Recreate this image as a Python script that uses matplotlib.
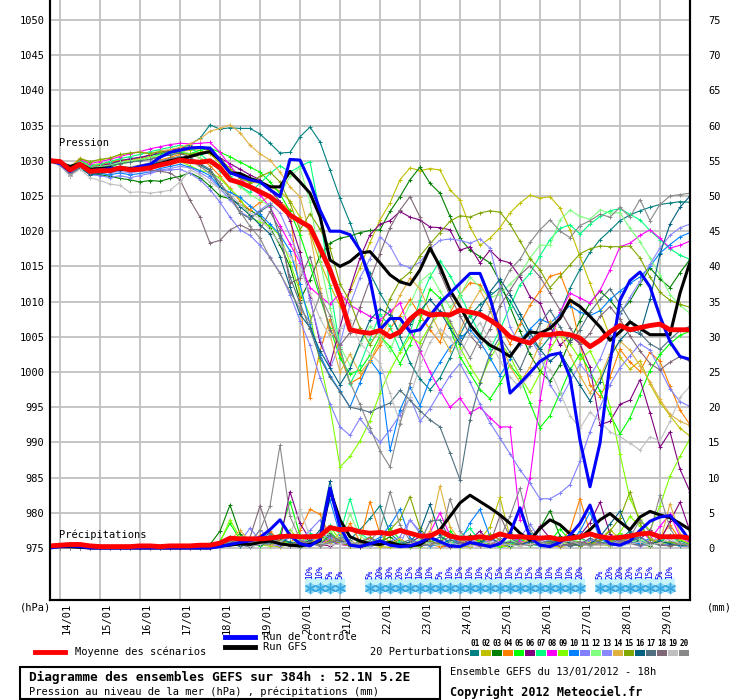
import numpy as np
import matplotlib
matplotlib.use('Agg')
import matplotlib.pyplot as plt
from matplotlib.lines import Line2D
from matplotlib.patches import Rectangle
from matplotlib.transforms import ScaledTranslation

plt.rcParams['font.family'] = ['DejaVu Sans Mono', 'DejaVu Sans']

# run start 13/01 18h, one value every 6h over 384h
start_day = 13.75
step_day = 0.25

date_ticks = list(range(14, 30))
date_labels = ['%02d/01' % d for d in date_ticks]

# pressure (hPa)
mean_p = [1030.0, 1029.9, 1028.7, 1029.5, 1028.5, 1028.6, 1028.6, 1029.0,
          1028.7, 1028.8, 1029.0, 1029.4, 1029.7, 1030.1, 1029.9, 1029.8,
          1030.0, 1029.0, 1027.3, 1026.9, 1026.3, 1025.6, 1024.9, 1023.7,
          1022.3, 1021.4, 1020.6, 1017.6, 1014.5, 1010.7, 1006.0, 1005.7,
          1005.5, 1005.9, 1005.0, 1005.7, 1007.5, 1008.7, 1008.1, 1008.2,
          1008.1, 1008.8, 1008.5, 1008.2, 1007.4, 1006.4, 1005.0, 1004.5,
          1004.1, 1005.3, 1005.3, 1005.5, 1005.3, 1004.8, 1003.6, 1004.5,
          1005.7, 1006.6, 1006.0, 1006.3, 1006.6, 1006.8, 1006.0, 1006.0,
          1006.0]
control_p = [1030.0, 1029.6, 1028.5, 1029.6, 1028.6, 1028.7, 1028.9, 1029.0,
             1028.8, 1029.2, 1029.5, 1030.5, 1031.2, 1031.5, 1031.8, 1031.9,
             1031.8, 1030.1, 1028.3, 1027.8, 1027.3, 1027.0, 1025.9, 1024.9,
             1030.2, 1030.1, 1027.0, 1023.0, 1020.0, 1020.0, 1019.5, 1017.3,
             1013.1, 1006.0, 1007.6, 1007.6, 1005.7, 1006.0, 1008.0, 1009.8,
             1011.2, 1012.6, 1014.0, 1014.0, 1010.5, 1005.5, 997.0, 998.4,
             999.9, 1001.5, 1002.4, 1002.7, 999.3, 990.3, 983.7, 989.9,
             1001.3, 1010.2, 1013.0, 1014.2, 1012.1, 1007.9, 1004.3, 1002.2,
             1001.8]
gfs_p = [1030.0, 1029.7, 1029.2, 1029.6, 1028.8, 1028.9, 1029.0, 1028.8,
         1028.9, 1028.9, 1029.2, 1029.6, 1030.0, 1030.3, 1030.6, 1031.0,
         1031.3, 1030.1, 1028.3, 1028.2, 1027.5, 1027.0, 1026.3, 1026.3,
         1028.5, 1027.0, 1025.4, 1022.1, 1015.9, 1015.0, 1015.7, 1016.9,
         1017.1, 1015.5, 1013.8, 1012.8, 1012.4, 1014.5, 1017.6, 1015.0,
         1011.6, 1009.3, 1006.7, 1005.0, 1003.8, 1003.1, 1002.2, 1004.1,
         1005.7, 1005.5, 1006.2, 1007.6, 1010.2, 1009.3, 1007.9, 1006.4,
         1004.5, 1005.7, 1007.1, 1006.2, 1005.3, 1005.3, 1005.3, 1011.2,
         1015.6]

p01 = [1030.2, 1029.8, 1028.3, 1029.8, 1028.9, 1029.2, 1029.5, 1029.9,
       1030.2, 1030.4, 1030.8, 1031.0, 1031.4, 1031.8, 1032.3, 1033.2,
       1035.1, 1034.5, 1034.7, 1034.6, 1034.6, 1033.8, 1032.5, 1031.1,
       1031.2, 1033.4, 1034.8, 1032.7, 1028.7, 1024.7, 1021.2, 1017.3,
       1014.0, 1011.2, 1008.8, 1005.0, 1001.3, 999.0, 997.5, 999.2,
       1002.0, 1005.3, 1008.0, 1009.6, 1010.8, 1012.0, 1010.1, 1007.5,
       1004.8, 1003.2, 1005.0, 1008.3, 1011.9, 1014.6, 1017.0, 1018.8,
       1020.1, 1021.5, 1022.3, 1022.9, 1023.4, 1023.8, 1024.0, 1024.2,
       1024.1]
p02 = [1030.0, 1029.9, 1028.9, 1030.1, 1029.4, 1029.6, 1029.8, 1030.2,
       1030.0, 1030.4, 1030.2, 1030.7, 1030.9, 1031.2, 1031.6, 1031.5,
       1031.0, 1029.6, 1028.4, 1027.7, 1027.0, 1026.8, 1026.3, 1025.7,
       1024.3, 1022.0, 1019.8, 1015.6, 1012.3, 1009.4, 1011.5, 1014.8,
       1018.4, 1021.6, 1024.0, 1027.3, 1029.0, 1028.6, 1028.9, 1028.7,
       1025.9, 1024.4, 1020.6, 1018.0, 1019.0, 1020.5, 1022.6, 1024.0,
       1025.1, 1024.7, 1024.9, 1023.3, 1020.2, 1016.4, 1012.6, 1008.8,
       1005.0, 1002.1, 1000.4, 1001.6, 998.3, 995.7, 993.8, 992.0,
       990.9]
p03 = [1029.8, 1029.5, 1028.2, 1029.3, 1028.3, 1028.0, 1027.8, 1027.5,
       1027.3, 1027.0, 1027.2, 1027.1, 1027.5, 1027.8, 1028.3, 1027.6,
       1026.4, 1025.0, 1024.6, 1023.8, 1023.0, 1022.1, 1020.5, 1018.0,
       1015.0, 1010.2, 1013.1, 1016.5, 1018.3, 1019.0, 1019.3, 1019.8,
       1020.1, 1020.2, 1022.8, 1024.9, 1027.3, 1029.1, 1026.8, 1025.4,
       1022.1, 1019.0, 1017.3, 1016.4, 1015.5, 1012.8, 1009.3, 1005.8,
       1002.5, 1000.1, 998.7, 1001.0, 1004.5, 1007.3, 1009.8, 1011.5,
       1010.2, 1008.4, 1010.1, 1012.5, 1014.8, 1013.2, 1012.0, 1014.1,
       1016.0]
p04 = [1030.1, 1029.7, 1028.6, 1029.9, 1029.2, 1029.4, 1029.8, 1030.0,
       1029.9, 1030.3, 1030.6, 1030.1, 1030.5, 1030.9, 1031.0, 1030.4,
       1029.3, 1027.8, 1026.1, 1024.3, 1023.0, 1024.1, 1025.0, 1024.2,
       1023.0, 1010.5, 996.3, 1003.0, 1007.5, 1002.5, 998.4, 999.2,
       1001.5, 1003.8, 1006.2, 1008.0, 1010.3, 1008.1, 1006.0, 1004.2,
       1008.4, 1011.0, 1012.7, 1012.4, 1010.2, 1006.5, 1004.0, 1006.8,
       1009.5, 1011.5, 1013.6, 1014.0, 1010.3, 1004.1, 998.2, 996.5,
       999.3, 1003.2, 1001.4, 1000.1, 1002.8, 1001.5, 998.0, 994.6,
       992.5]
p05 = [1029.9, 1029.6, 1028.4, 1029.6, 1028.7, 1028.9, 1029.1, 1029.6,
       1029.8, 1030.1, 1030.5, 1030.9, 1031.1, 1031.3, 1031.0, 1031.5,
       1031.8, 1031.2, 1030.6, 1029.8, 1029.1, 1028.4, 1027.0, 1025.3,
       1022.8, 1019.5, 1015.2, 1010.6, 1006.3, 1002.0, 999.7, 1000.3,
       1002.4, 1005.1, 1003.6, 1001.2, 1003.9, 1007.4, 1011.8, 1010.5,
       1006.3, 1002.2, 999.8, 997.5, 996.2, 998.4, 1001.0, 999.2,
       995.6, 992.1, 993.8, 997.0, 1000.3, 1002.6, 1000.1, 997.3,
       994.0, 991.2, 993.5, 996.8, 1000.2, 1002.5, 1004.0, 1005.2,
       1005.8]
p06 = [1030.0, 1029.8, 1028.7, 1029.7, 1029.0, 1029.3, 1029.6, 1030.0,
       1030.3, 1030.5, 1030.8, 1031.2, 1031.5, 1031.8, 1032.0, 1031.9,
       1031.5, 1030.4, 1029.6, 1028.8, 1028.0, 1027.3, 1025.9, 1024.2,
       1021.5, 1017.0, 1010.5, 1004.2, 1001.0, 1006.3, 1011.8, 1016.2,
       1019.5, 1021.0, 1021.5, 1022.8, 1022.0, 1021.6, 1020.6, 1020.5,
       1020.2, 1017.3, 1017.8, 1015.5, 1017.3, 1015.9, 1015.5, 1013.5,
       1010.7, 1009.8, 1006.5, 1003.8, 1005.2, 1004.0, 1000.7, 992.5,
       993.0, 995.4, 996.0, 998.9, 994.2, 989.3, 991.5, 986.2,
       983.0]
p07 = [1030.1, 1029.9, 1028.8, 1030.0, 1029.3, 1029.5, 1029.9, 1030.3,
       1030.6, 1030.9, 1031.3, 1031.6, 1031.9, 1032.2, 1031.8, 1031.0,
       1029.8, 1028.6, 1027.9, 1026.4, 1025.5, 1026.8, 1028.2, 1029.3,
       1028.4, 1029.2, 1029.9, 1022.4, 1012.0, 1003.5, 998.3, 1001.0,
       1004.7, 1008.2, 1006.5, 1003.1, 1005.6, 1010.2, 1013.5, 1015.8,
       1013.7, 1011.0, 1008.1, 1005.4, 1003.2, 1006.0, 1009.3, 1012.4,
       1014.0, 1016.5, 1018.8, 1020.4, 1020.9, 1019.6, 1021.0, 1022.1,
       1022.9, 1023.2, 1022.4, 1021.6, 1020.1, 1018.8, 1017.5, 1016.6,
       1016.0]
p08 = [1030.3, 1030.0, 1028.9, 1030.2, 1029.6, 1029.9, 1030.2, 1030.6,
       1031.0, 1031.3, 1031.7, 1032.0, 1032.3, 1032.5, 1032.4, 1032.5,
       1032.6, 1031.2, 1029.3, 1027.6, 1026.1, 1025.2, 1023.4, 1020.8,
       1018.2, 1015.5, 1012.0, 1010.8, 1009.6, 1011.2, 1009.5, 1008.7,
       1007.9, 1007.4, 1008.6, 1009.8, 1006.0, 1003.0, 1000.0, 997.4,
       995.0, 996.3, 994.2, 995.0, 993.5, 992.2, 992.2, 979.0,
       985.0, 996.0, 1004.0, 1008.5, 1011.2, 1010.5, 1009.8, 1011.6,
       1014.5, 1017.8, 1018.3, 1019.4, 1020.2, 1019.0, 1017.6, 1018.0,
       1018.6]
p09 = [1029.9, 1029.6, 1028.5, 1029.4, 1028.6, 1028.7, 1028.5, 1028.9,
       1028.6, 1028.8, 1028.9, 1029.3, 1029.6, 1029.9, 1029.3, 1028.6,
       1028.4, 1027.5, 1026.0, 1024.7, 1022.0, 1021.3, 1020.8, 1019.3,
       1015.6, 1011.4, 1008.0, 1001.5, 995.0, 986.5, 988.0, 990.2,
       993.1, 997.0, 1000.2, 1002.8, 1005.0, 1004.1, 1006.6, 1008.4,
       1007.0, 1003.5, 1000.8, 998.6, 1001.9, 1004.3, 1002.2, 999.4,
       997.1, 999.8, 1003.2, 1005.5, 1004.0, 1001.8, 1003.0, 1000.1,
       995.0, 988.3, 982.0, 979.1, 977.5, 981.0, 985.2, 988.0,
       990.5]
p10 = [1030.0, 1029.5, 1028.1, 1029.2, 1028.1, 1028.2, 1028.0, 1028.3,
       1028.0, 1028.2, 1028.4, 1028.9, 1029.2, 1029.5, 1029.1, 1028.6,
       1027.9, 1026.2, 1025.5, 1024.8, 1023.6, 1022.4, 1021.0, 1019.5,
       1017.2, 1012.5, 1006.8, 1002.4, 999.5, 997.3, 995.0, 998.5,
       1001.7, 999.8, 988.9, 994.6, 997.8, 995.2, 999.0, 1001.4,
       1003.6, 1004.8, 1006.0, 1004.3, 1002.0, 999.5, 1001.8, 1004.5,
       1006.1, 1007.5, 1006.9, 1008.2, 1009.4, 1008.5, 1008.0, 1008.7,
       1010.3, 1011.5, 1012.6, 1013.5, 1015.0, 1016.9, 1018.1, 1019.2,
       1019.8]
p11 = [1030.0, 1029.6, 1028.2, 1029.2, 1028.0, 1027.9, 1027.6, 1027.9,
       1027.6, 1027.9, 1028.2, 1028.6, 1028.7, 1028.8, 1028.2, 1027.3,
       1025.9, 1024.1, 1022.0, 1020.2, 1019.4, 1018.0, 1016.3, 1014.1,
       1011.0, 1007.3, 1003.8, 999.2, 995.5, 992.2, 991.0, 993.4,
       991.5, 990.0, 991.8, 993.9, 996.4, 993.0, 994.8, 997.2,
       999.5, 1001.2, 998.6, 995.4, 992.8, 990.6, 988.4, 986.1,
       984.2, 982.0, 982.0, 982.8, 984.0, 987.3, 991.5, 995.0,
       998.2, 1000.6, 1002.3, 1004.0, 1003.1, 1000.4, 997.6, 995.8,
       995.1]
p12 = [1030.1, 1029.8, 1028.6, 1029.8, 1029.0, 1029.2, 1029.4, 1029.8,
       1030.0, 1030.2, 1030.5, 1030.8, 1031.0, 1031.4, 1031.0, 1030.4,
       1029.7, 1028.8, 1027.6, 1026.3, 1025.2, 1024.4, 1023.6, 1025.2,
       1027.8, 1029.0, 1024.2, 1015.8, 1009.1, 1003.6, 1001.0, 1003.8,
       1006.5, 1005.1, 1003.0, 1006.7, 1009.6, 1012.8, 1014.0, 1011.5,
       1009.2, 1010.8, 1013.5, 1012.0, 1010.6, 1011.0, 1012.5, 1013.9,
       1016.2, 1018.0, 1018.0, 1021.6, 1023.0, 1022.1, 1021.7, 1023.0,
       1022.6, 1022.6, 1020.4, 1018.5, 1016.2, 1013.8, 1011.0, 1009.5,
       1008.3]
p13 = [1030.0, 1029.7, 1028.5, 1029.5, 1028.6, 1028.5, 1028.3, 1028.5,
       1028.3, 1028.5, 1028.4, 1028.7, 1028.9, 1029.2, 1029.0, 1028.3,
       1027.5, 1026.0, 1024.5, 1022.8, 1021.9, 1023.0, 1024.0, 1022.6,
       1019.4, 1016.0, 1010.2, 1004.8, 1000.5, 1004.0, 1009.5, 1013.4,
       1016.1, 1019.2, 1017.9, 1015.3, 1014.8, 1015.6, 1017.5, 1018.7,
       1018.9, 1018.7, 1018.3, 1018.9, 1017.6, 1012.1, 1006.4, 1003.8,
       1004.8, 1002.5, 998.2, 996.0, 998.7, 1001.1, 999.4, 1001.8,
       1005.3, 1008.2, 1010.6, 1012.9, 1015.3, 1017.6, 1019.4, 1020.5,
       1021.0]
p14 = [1030.2, 1030.0, 1029.1, 1030.4, 1029.8, 1030.1, 1030.4, 1030.8,
       1031.1, 1031.3, 1031.0, 1031.4, 1031.6, 1031.9, 1032.4, 1033.1,
       1034.2, 1034.6, 1035.1, 1034.0, 1032.2, 1031.0, 1030.1, 1028.4,
       1026.3, 1024.9, 1019.6, 1012.0, 1005.3, 1000.0, 1002.5, 999.8,
       1001.6, 1004.5, 1007.7, 1010.9, 1013.3, 1011.8, 1008.5, 1005.6,
       1003.0, 1005.8, 1009.2, 1011.6, 1009.0, 1004.6, 1000.8, 998.5,
       1000.7, 1004.1, 1007.2, 1005.3, 1002.4, 999.5, 997.0, 999.2,
       1002.6, 1004.4, 1003.1, 1000.9, 998.6, 996.1, 994.0, 993.0,
       992.4]
p15 = [1030.0, 1029.8, 1028.8, 1030.3, 1029.9, 1030.2, 1030.4, 1030.9,
       1031.1, 1031.2, 1031.0, 1031.3, 1031.2, 1031.1, 1030.9, 1031.2,
       1031.5, 1030.3, 1028.9, 1027.5, 1026.9, 1027.8, 1028.4, 1027.0,
       1024.0, 1020.2, 1022.5, 1020.3, 1017.6, 1012.5, 1010.0, 1006.2,
       1003.9, 1006.1, 1010.4, 1013.0, 1014.2, 1016.5, 1018.2, 1019.8,
       1021.4, 1022.2, 1022.0, 1022.6, 1022.9, 1022.7, 1021.0, 1018.6,
       1016.1, 1014.5, 1012.0, 1013.6, 1015.2, 1016.8, 1017.5, 1017.9,
       1017.8, 1017.8, 1017.9, 1016.2, 1013.5, 1011.3, 1010.2, 1009.6,
       1009.2]
p16 = [1029.9, 1029.4, 1027.9, 1029.0, 1028.0, 1028.2, 1028.4, 1028.7,
       1028.9, 1029.2, 1029.5, 1029.9, 1030.3, 1030.6, 1030.2, 1029.4,
       1028.6, 1026.3, 1024.9, 1023.5, 1022.3, 1020.9, 1019.6, 1016.4,
       1012.1, 1008.2, 1006.3, 1003.0, 1000.6, 998.2, 1000.5, 1004.1,
       1007.4, 1009.0, 1008.1, 1005.5, 1006.8, 1008.7, 1010.3, 1008.6,
       1006.2, 1004.0, 1006.5, 1008.8, 1011.4, 1013.2, 1011.0, 1008.3,
       1005.6, 1003.2, 1001.5, 1002.8, 1000.4, 998.1, 995.9, 998.6,
       1002.1, 1004.5, 1006.0, 1005.4, 1010.3, 1016.8, 1021.0, 1023.4,
       1025.0]
p17 = [1030.1, 1029.7, 1028.4, 1029.6, 1028.8, 1029.0, 1029.3, 1029.6,
       1029.8, 1030.0, 1030.2, 1030.6, 1030.8, 1031.1, 1030.5, 1029.6,
       1028.8, 1026.8, 1025.0, 1022.6, 1021.8, 1022.8, 1023.7, 1019.0,
       1013.5, 1009.8, 1006.1, 1002.0, 999.3, 997.2, 995.0, 994.7,
       994.3, 995.0, 995.6, 997.4, 996.0, 994.5, 993.2, 992.2,
       988.5, 984.7, 993.2, 998.4, 1002.6, 1005.0, 1002.8, 1000.4,
       1003.7, 1006.9, 1008.8, 1006.4, 1004.2, 1006.0, 1008.5, 1010.3,
       1011.8, 1009.6, 1007.2, 1005.5, 1004.0, 1003.2, 1004.6, 1005.9,
       1006.5]
p18 = [1029.8, 1029.5, 1028.0, 1029.1, 1028.3, 1028.5, 1028.7, 1028.9,
       1028.8, 1028.9, 1028.7, 1028.5, 1028.3, 1027.3, 1024.4, 1022.0,
       1018.3, 1018.7, 1020.2, 1020.9, 1020.2, 1020.2, 1022.8, 1020.2,
       1012.6, 1013.3, 1016.4, 1011.2, 1006.0, 1003.8, 1005.6, 1009.2,
       1013.1, 1016.8, 1020.5, 1023.0, 1024.9, 1022.0, 1018.4, 1014.1,
       1010.8, 1008.0, 1005.2, 1003.6, 1006.1, 1009.4, 1011.6, 1013.8,
       1015.1, 1013.5, 1011.2, 1008.8, 1006.3, 1004.0, 1005.5, 1007.9,
       1009.3, 1007.5, 1005.1, 1003.0, 1001.2, 1000.3, 1001.4, 1002.2,
       1001.5]
p19 = [1029.8, 1029.3, 1027.9, 1028.8, 1027.6, 1027.2, 1026.7, 1026.5,
       1025.5, 1025.6, 1025.4, 1025.6, 1025.8, 1027.0, 1028.7, 1028.0,
       1027.0, 1026.0, 1025.2, 1023.9, 1022.6, 1021.8, 1020.1, 1018.3,
       1016.5, 1014.8, 1011.2, 1007.6, 1005.0, 1006.2, 1007.4, 1004.1,
       1002.6, 1001.3, 997.0, 992.8, 996.5, 1000.9, 1004.2, 1006.1,
       1004.8, 1002.5, 1005.3, 1007.0, 1004.4, 1001.6, 999.3, 997.8,
       999.6, 1002.0, 1000.3, 997.1, 993.8, 992.0, 994.3, 993.0,
       991.5, 990.8, 989.9, 988.9, 990.8, 990.2, 993.0, 996.4,
       998.0]
p20 = [1030.0, 1029.6, 1028.3, 1029.4, 1028.4, 1028.6, 1028.9, 1029.2,
       1029.1, 1029.4, 1029.7, 1030.0, 1030.3, 1030.6, 1030.0, 1029.2,
       1028.2, 1026.9, 1025.0, 1022.8, 1020.7, 1019.0, 1016.2, 1014.0,
       1011.4, 1009.0, 1007.1, 1010.9, 1008.0, 1003.2, 998.5, 995.4,
       992.0, 988.8, 986.5, 992.6, 998.4, 1003.1, 1006.4, 1009.8,
       1007.2, 1004.5, 1002.0, 1004.9, 1008.6, 1011.8, 1014.5, 1016.0,
       1018.4, 1020.2, 1021.6, 1020.0, 1019.1, 1020.8, 1021.5, 1022.4,
       1022.0, 1023.4, 1022.0, 1024.5, 1021.5, 1023.8, 1025.0, 1025.2,
       1025.4]

# precipitation (mm / 6h)
mean_rr = [0.3, 0.4, 0.5, 0.5, 0.3, 0.2, 0.2, 0.2, 0.2, 0.3, 0.3, 0.2, 0.3, 0.3, 0.3, 0.4,
           0.4, 0.7, 1.4, 1.3, 1.3, 1.3, 1.4, 1.6, 1.7, 1.6, 1.6, 1.7, 2.9, 2.6, 2.7, 2.3,
           2.1, 2.2, 2.0, 2.5, 2.1, 1.7, 1.7, 2.4, 1.7, 1.4, 1.4, 1.6, 1.4, 2.0, 1.6, 1.6,
           1.5, 1.4, 1.5, 1.2, 1.4, 1.6, 2.0, 1.6, 1.4, 1.5, 1.7, 2.0, 2.1, 1.6, 1.6, 1.6,
           1.4]
control_rr = [0.0, 0.2, 0.3, 0.2, 0.0, 0.0, 0.0, 0.0, 0.0, 0.0, 0.0, 0.0, 0.0, 0.0, 0.0, 0.0,
              0.0, 0.2, 0.5, 0.8, 1.0, 1.5, 2.6, 4.0, 1.8, 0.6, 0.3, 1.2, 8.5, 3.0, 0.4, 0.2,
              0.6, 1.0, 0.4, 0.2, 0.3, 0.8, 1.5, 0.9, 0.3, 0.2, 0.8, 0.5, 0.2, 0.6, 2.1, 5.7,
              1.5, 0.4, 0.2, 0.8, 1.8, 3.5, 6.1, 2.0, 0.6, 0.4, 1.0, 2.5, 3.8, 4.4, 4.6, 3.0,
              1.0]
gfs_rr = [0.1, 0.2, 0.2, 0.1, 0.0, 0.0, 0.0, 0.0, 0.0, 0.0, 0.0, 0.0, 0.0, 0.0, 0.0, 0.0,
          0.0, 0.3, 0.4, 0.6, 0.5, 0.8, 1.0, 0.6, 0.4, 0.3, 0.5, 1.0, 8.2, 4.0, 1.6, 1.0,
          0.6, 0.5, 0.8, 0.4, 0.3, 0.5, 1.5, 2.6, 4.5, 6.4, 7.5, 6.6, 5.7, 4.7, 3.5, 2.1,
          1.1, 2.8, 4.0, 3.3, 2.0, 1.4, 2.6, 4.0, 4.9, 3.7, 2.6, 4.4, 5.2, 4.7, 4.3, 3.5,
          2.6]

r01 = [0, 0, 0, 0, 0, 0, 0, 0, 0, 0, 0, 0, 0, 0, 0, 0,
       0.2, 0.8, 1.5, 0.6, 0.3, 1.0, 2.2, 0.8, 0.4, 0.2, 0.6, 1.8, 0.9, 0.5, 1.2, 2.6,
       4.2, 6.0, 2.1, 0.8, 0.4, 0.3, 0.8, 1.6, 0.9, 0.5, 0.3, 1.1, 0.6, 0.3, 0.4, 1.2,
       2.1, 0.8, 0.5, 0.3, 0.9, 1.5, 0.7, 0.4, 0.6, 1.3, 2.4, 1.1, 0.5, 0.8, 1.9, 1.0, 0.5]
r02 = [0, 0, 0, 0, 0, 0, 0, 0, 0, 0, 0, 0, 0, 0, 0, 0,
       0.0, 0.3, 0.9, 0.5, 1.2, 0.8, 0.3, 0.2, 0.5, 1.1, 0.4, 2.0, 1.3, 0.6, 0.3, 0.8,
       0.5, 0.2, 0.1, 0.3, 0.6, 0.4, 1.6, 1.0, 0.3, 0.2, 0.2, 1.2, 3.0, 7.2, 1.5, 0.4,
       1.4, 0.5, 0.3, 0.2, 0.4, 0.8, 0.5, 1.2, 2.6, 1.3, 0.6, 0.4, 0.3, 0.9, 0.5, 0.3, 0.2]
r03 = [0, 0, 0, 0, 0, 0, 0, 0, 0, 0, 0, 0, 0, 0, 0, 0,
       0.5, 2.4, 6.1, 2.0, 0.8, 0.4, 0.6, 1.1, 0.7, 0.3, 1.5, 0.6, 2.2, 0.9, 0.4, 0.2,
       0.3, 0.8, 1.6, 0.5, 0.2, 0.4, 1.0, 0.6, 0.3, 0.5, 1.8, 0.9, 0.4, 0.6, 2.3, 0.8,
       0.5, 2.8, 5.3, 1.7, 0.6, 0.3, 0.5, 0.9, 0.4, 0.8, 1.5, 0.7, 0.3, 1.2, 0.6, 0.4, 0.3]
r04 = [0, 0, 0, 0, 0, 0, 0, 0, 0, 0, 0, 0, 0, 0, 0, 0,
       0.0, 0.4, 1.2, 0.7, 0.5, 1.8, 2.4, 1.0, 0.6, 2.5, 5.5, 4.8, 1.6, 0.8, 3.5, 0.9,
       6.6, 2.0, 0.8, 0.4, 0.3, 1.0, 0.5, 0.2, 0.3, 0.6, 0.4, 1.5, 0.7, 0.3, 0.2, 0.9,
       1.6, 0.8, 0.4, 0.9, 2.5, 7.0, 2.2, 0.6, 0.3, 0.5, 1.0, 0.6, 0.4, 1.5, 3.3, 1.2, 0.6]
r05 = [0, 0, 0, 0, 0, 0, 0, 0, 0, 0, 0, 0, 0, 0, 0, 0,
       0.0, 1.0, 3.5, 1.2, 0.6, 0.3, 0.8, 2.0, 6.6, 1.8, 0.5, 0.9, 1.4, 0.6, 0.3, 1.1,
       0.7, 0.4, 2.8, 1.2, 0.5, 0.3, 0.6, 0.9, 2.4, 1.0, 0.4, 0.7, 0.3, 0.2, 0.5, 1.3,
       0.6, 0.4, 0.9, 2.7, 1.1, 0.5, 0.3, 0.6, 0.8, 1.6, 0.7, 0.4, 0.6, 1.1, 0.5, 0.3, 0.2]
r06 = [0, 0, 0, 0, 0, 0, 0, 0, 0, 0, 0, 0, 0, 0, 0, 0,
       0.0, 0.3, 0.5, 0.8, 0.4, 0.6, 1.5, 0.9, 8.0, 3.5, 1.2, 0.5, 0.3, 0.7, 0.4, 0.2,
       0.5, 1.0, 0.6, 0.3, 0.8, 1.6, 0.7, 0.4, 0.2, 0.5, 1.2, 2.4, 0.8, 0.3, 0.5, 0.4,
       1.0, 3.1, 1.4, 0.6, 0.4, 1.8, 3.6, 6.5, 2.0, 0.8, 0.5, 1.2, 2.6, 1.0, 3.8, 6.5, 2.4]
r07 = [0, 0, 0, 0, 0, 0, 0, 0, 0, 0, 0, 0, 0, 0, 0, 0,
       0.0, 0.5, 1.6, 0.8, 0.4, 0.5, 1.2, 0.6, 0.9, 0.4, 2.1, 1.1, 3.2, 2.0, 7.0, 2.2,
       1.0, 0.6, 0.4, 0.9, 0.5, 0.3, 1.4, 0.8, 0.4, 1.6, 2.8, 0.9, 0.5, 0.3, 0.6, 1.1,
       0.5, 0.4, 1.3, 0.7, 0.3, 0.6, 1.0, 0.5, 0.8, 2.1, 1.2, 0.6, 0.4, 0.9, 1.8, 0.7, 0.4]
r08 = [0, 0, 0, 0, 0, 0, 0, 0, 0, 0, 0, 0, 0, 0, 0, 0,
       0.0, 0.2, 0.6, 0.4, 0.3, 0.5, 0.9, 0.6, 0.4, 0.8, 1.6, 0.7, 1.2, 0.5, 0.3, 0.6,
       1.4, 0.8, 0.5, 0.3, 0.6, 1.0, 2.2, 5.0, 1.8, 0.7, 0.4, 0.3, 0.5, 0.9, 2.0, 1.0,
       0.6, 0.4, 0.3, 0.8, 0.5, 0.4, 1.1, 0.6, 0.3, 0.6, 1.4, 2.5, 1.2, 3.1, 4.8, 1.6, 0.7]
r09 = [0, 0, 0, 0, 0, 0, 0, 0, 0, 0, 0, 0, 0, 0, 0, 0,
       0.0, 0.8, 4.0, 1.5, 0.6, 0.4, 0.3, 0.9, 2.6, 1.0, 0.5, 1.8, 3.0, 1.2, 0.7, 0.4,
       0.3, 0.6, 1.1, 0.5, 0.3, 0.2, 0.8, 0.5, 0.3, 0.2, 0.6, 1.0, 0.4, 0.3, 0.2, 0.5,
       0.8, 0.4, 0.3, 0.6, 1.3, 0.8, 0.5, 0.4, 1.0, 2.2, 4.5, 3.1, 1.4, 0.8, 0.5, 1.2, 0.6]
r10 = [0, 0, 0, 0, 0, 0, 0, 0, 0, 0, 0, 0, 0, 0, 0, 0,
       0.0, 0.3, 0.7, 0.5, 1.1, 0.6, 0.4, 0.8, 1.5, 0.7, 0.9, 2.0, 6.8, 1.9, 0.6, 0.4,
       0.8, 1.5, 3.2, 5.5, 1.4, 0.6, 0.3, 0.5, 1.2, 0.8, 3.6, 5.5, 1.6, 0.5, 0.3, 0.4,
       0.6, 0.3, 0.5, 1.0, 0.7, 2.4, 5.1, 1.3, 0.5, 0.3, 0.8, 0.6, 1.4, 0.9, 0.4, 0.7, 0.3]
r11 = [0, 0, 0, 0, 0, 0, 0, 0, 0, 0, 0, 0, 0, 0, 0, 0,
       0.0, 0.2, 0.4, 0.9, 2.8, 1.1, 0.5, 0.3, 0.6, 1.2, 2.5, 4.0, 1.5, 0.6, 1.0, 0.4,
       0.3, 0.5, 0.9, 1.6, 4.0, 2.1, 0.8, 0.5, 0.4, 0.9, 1.3, 0.6, 0.3, 0.5, 0.8, 1.5,
       3.4, 1.2, 0.6, 0.4, 0.3, 0.7, 1.2, 0.6, 0.4, 0.8, 0.5, 1.6, 0.8, 0.4, 0.6, 0.3, 0.2]
r12 = [0, 0, 0, 0, 0, 0, 0, 0, 0, 0, 0, 0, 0, 0, 0, 0,
       0.0, 0.5, 1.3, 0.6, 0.8, 0.4, 1.0, 0.7, 0.5, 1.4, 0.8, 0.6, 2.4, 1.0, 4.8, 1.8,
       0.7, 0.4, 0.6, 0.3, 0.5, 1.2, 0.6, 0.4, 0.9, 1.6, 0.8, 0.4, 0.3, 0.6, 1.1, 0.5,
       0.3, 0.6, 0.9, 0.5, 0.8, 1.3, 0.7, 0.4, 0.3, 0.5, 0.8, 1.2, 0.6, 0.4, 0.9, 0.5, 0.3]
r13 = [0, 0, 0, 0, 0, 0, 0, 0, 0, 0, 0, 0, 0, 0, 0, 0,
       0.0, 0.4, 0.9, 0.6, 0.5, 2.6, 1.2, 0.8, 0.3, 0.6, 1.0, 2.2, 1.4, 0.8, 0.5, 0.9,
       1.6, 0.7, 0.5, 0.3, 4.0, 2.4, 1.0, 0.4, 0.3, 0.5, 0.7, 0.4, 1.2, 0.6, 0.3, 0.8,
       0.5, 1.7, 0.9, 0.4, 0.6, 0.3, 0.5, 0.8, 0.4, 1.1, 0.6, 0.3, 0.5, 2.0, 1.0, 0.6, 0.3]
r14 = [0, 0, 0, 0, 0, 0, 0, 0, 0, 0, 0, 0, 0, 0, 0, 0,
       0.0, 0.6, 1.1, 2.5, 1.0, 0.5, 0.4, 0.8, 0.6, 0.3, 0.8, 1.5, 0.7, 2.2, 1.0, 0.5,
       0.8, 0.4, 0.6, 1.3, 0.5, 0.9, 2.4, 8.8, 3.0, 1.1, 0.5, 0.3, 0.6, 0.4, 0.3, 0.7,
       1.2, 0.5, 0.4, 0.9, 0.6, 0.3, 0.8, 0.5, 0.4, 0.7, 1.3, 2.6, 1.4, 0.8, 6.3, 2.0, 0.8]
r15 = [0, 0, 0, 0, 0, 0, 0, 0, 0, 0, 0, 0, 0, 0, 0, 0,
       0.0, 0.4, 0.8, 0.5, 0.3, 0.7, 1.8, 0.9, 0.5, 1.0, 0.6, 0.4, 1.1, 0.7, 0.3, 0.8,
       1.5, 0.6, 2.6, 4.1, 7.3, 2.8, 1.0, 0.5, 0.3, 0.6, 0.4, 0.9, 2.0, 1.1, 0.5, 0.3,
       0.6, 0.4, 0.8, 1.4, 0.6, 0.3, 0.5, 1.1, 2.4, 4.3, 8.0, 3.5, 1.2, 0.6, 0.9, 0.5, 0.3]
r16 = [0, 0, 0, 0, 0, 0, 0, 0, 0, 0, 0, 0, 0, 0, 0, 0,
       0.0, 0.2, 0.5, 0.3, 0.6, 0.4, 0.9, 1.4, 0.8, 0.5, 1.1, 2.5, 9.5, 3.0, 0.8, 0.4,
       0.6, 1.2, 0.7, 0.4, 0.9, 2.4, 6.2, 1.8, 0.6, 0.4, 0.3, 0.8, 1.5, 0.6, 0.3, 0.5,
       0.9, 0.4, 0.6, 1.2, 0.7, 0.4, 0.6, 1.6, 3.4, 5.2, 2.0, 0.8, 0.5, 1.0, 0.6, 0.4, 0.5]
r17 = [0, 0, 0, 0, 0, 0, 0, 0, 0, 0, 0, 0, 0, 0, 0, 0,
       0.0, 0.3, 0.6, 0.4, 0.2, 0.5, 0.8, 0.5, 0.3, 0.6, 0.9, 0.5, 1.8, 1.0, 0.6, 0.4,
       0.5, 0.8, 0.4, 0.6, 1.2, 0.7, 3.8, 4.0, 1.2, 0.5, 0.8, 0.4, 0.3, 0.6, 0.9, 0.5,
       0.4, 0.7, 1.0, 0.6, 0.3, 0.5, 1.4, 0.8, 0.6, 0.4, 0.9, 1.5, 0.7, 0.4, 0.3, 0.6, 0.4]
r18 = [0, 0, 0, 0, 0, 0, 0, 0, 0, 0, 0, 0, 0, 0, 0, 0,
       0.0, 0.5, 1.0, 0.7, 1.5, 6.0, 1.8, 0.7, 0.4, 0.9, 0.6, 0.3, 0.8, 1.2, 0.5, 0.3,
       0.6, 1.0, 0.5, 0.4, 0.7, 0.3, 0.5, 0.9, 1.6, 0.8, 0.4, 0.3, 0.6, 4.6, 1.5, 0.6,
       0.4, 0.8, 0.5, 0.3, 0.6, 0.9, 0.5, 0.4, 0.7, 1.2, 0.6, 0.4, 0.8, 0.5, 0.3, 0.6, 0.4]
r19 = [0, 0, 0, 0, 0, 0, 0, 0, 0, 0, 0, 0, 0, 0, 0, 0,
       0.0, 0.2, 0.4, 0.6, 0.3, 0.5, 1.2, 0.8, 2.0, 5.5, 1.6, 0.7, 0.4, 0.6, 0.9, 0.5,
       0.4, 0.8, 0.5, 0.3, 0.6, 1.0, 0.5, 0.4, 0.7, 0.4, 0.3, 0.5, 0.9, 0.6, 0.4, 0.3,
       0.5, 0.8, 0.4, 0.6, 1.1, 0.5, 0.3, 0.4, 0.6, 0.3, 0.5, 0.9, 0.4, 0.7, 1.3, 0.6, 0.4]
r20 = [0, 0, 0, 0, 0, 0, 0, 0, 0, 0, 0, 0, 0, 0, 0, 0,
       0.0, 0.3, 0.8, 0.5, 1.0, 2.5, 6.0, 14.6, 4.5, 1.2, 0.6, 0.4, 0.8, 1.5, 0.7, 0.5,
       1.0, 2.6, 8.0, 3.2, 1.1, 0.6, 0.4, 0.9, 7.0, 2.4, 0.8, 0.5, 0.3, 1.4, 4.5, 8.5,
       2.6, 0.9, 0.5, 0.8, 1.2, 0.6, 0.4, 0.7, 0.5, 0.8, 1.5, 4.0, 2.2, 7.5, 2.8, 0.6, 0.4]

pert_p = [p01, p02, p03, p04, p05, p06, p07, p08, p09, p10,
          p11, p12, p13, p14, p15, p16, p17, p18, p19, p20]
pert_rr = [r01, r02, r03, r04, r05, r06, r07, r08, r09, r10,
           r11, r12, r13, r14, r15, r16, r17, r18, r19, r20]
pert_colors = ['#008080', '#c0c000', '#008000', '#ff8000', '#00ff00',
               '#800080', '#00ff80', '#ff00ff', '#80ff00', '#0080ff',
               '#8080ff', '#80ff80', '#8888ff', '#e0b040', '#80a800',
               '#006080', '#507080', '#806878', '#c0c0c0', '#888888']

# snow probability (steps with snow and percentage)
snow_steps = [26, 27, 28, 29,
              32, 33, 34, 35, 36, 37, 38, 39, 40, 41, 42, 43, 44, 45, 46, 47, 48, 49, 50, 51, 52, 53,
              55, 56, 57, 58, 59, 60, 61, 62]
snow_pct = [10, 10, 5, 5,
            5, 20, 30, 20, 15, 10, 10, 5, 10, 15, 10, 10, 25, 15, 10, 15, 15, 10, 10, 10, 10, 20,
            5, 20, 20, 20, 15, 15, 5, 10]

W, H = 740, 700
def fx(px):
    return px / W
def fy(py):
    return 1 - py / H

fig = plt.figure(figsize=(7.4, 7.0), dpi=100)
ax = fig.add_axes([fx(50), fy(600), fx(690) - fx(50), fy(0) - fy(600)])

days = start_day + step_day * np.arange(len(mean_p))
ppx = 7.04  # pixels per hPa (and per mm)
ylo = 975 - 52 / ppx
yhi = 1050 + 20 / ppx
ax.set_xlim(start_day, start_day + 16)
ax.set_ylim(ylo, yhi)

ax.set_yticks(range(975, 1051, 5))
ax.set_xticks(date_ticks, date_labels, rotation=90, ha='center', va='top')
ax.grid(True, color='#c0c0c0', lw=1.3)
ax.set_axisbelow(True)
ax.tick_params(length=0, labelsize=7.5)
ax.tick_params(axis='y', pad=4)
ax.tick_params(axis='x', pad=2)
for lbl in ax.get_xticklabels():
    lbl.set_transform(lbl.get_transform() + ScaledTranslation(7 / 100, 0, fig.dpi_scale_trans))
for s in ['left', 'right', 'bottom']:
    ax.spines[s].set_linewidth(1.5)
ax.spines['top'].set_visible(False)

# pressure
for vals, col in zip(pert_p, pert_colors):
    ax.plot(days, vals, color=col, lw=0.8, marker='+', ms=3, mew=0.7)
ax.plot(days, gfs_p, color='black', lw=2.2)
ax.plot(days, control_p, color='#0000ff', lw=2.2)
ax.plot(days, mean_p, color='#ff0000', lw=3.5)

# snow flakes
snow_x = start_day + step_day * np.array(snow_steps)
band_bot = 975 - 592 / ppx + 548 / ppx
band_top = 975 - 578 / ppx + 548 / ppx
ax.bar(snow_x, band_top - band_bot, bottom=band_bot, width=step_day,
       color='#c8f4ff', lw=0)
flake_y = 975 - (588 - 548) / ppx
ax.scatter(snow_x, np.full(len(snow_x), flake_y), s=55, marker='o',
           color='#8fd8f6', lw=0, zorder=3)
ax.scatter(snow_x, np.full(len(snow_x), flake_y), s=55, marker=(6, 2, 0),
           color='#3aa8e0', lw=1.0, zorder=4)
for sx, pct in zip(snow_x, snow_pct):
    ax.text(sx, 975 - (579 - 548) / ppx, '%d%%' % pct, rotation=90, ha='center',
            va='bottom', fontsize=5.5, color='#0000ff')

ax.text(start_day + 9 / 40, 1050 - (143 - 20) / ppx, 'Pression', fontsize=7.5, va='center')
ax.text(start_day + 9 / 40, 975 + (548 - 535) / ppx, 'Précipitations', fontsize=7.5, va='center')

# precipitation on right axis
ax2 = ax.twinx()
ax2.set_ylim(ylo - 975, yhi - 975)
ax2.set_yticks(range(0, 76, 5))
ax2.tick_params(length=0, labelsize=7.5, pad=13)
ax2.spines['top'].set_visible(False)
for s in ['left', 'right', 'bottom']:
    ax2.spines[s].set_linewidth(1.5)
for vals, col in zip(pert_rr, pert_colors):
    ax2.plot(days, vals, color=col, lw=0.8, marker='+', ms=3, mew=0.7)
ax2.plot(days, gfs_rr, color='black', lw=2.2)
ax2.plot(days, control_rr, color='#0000ff', lw=2.2)
ax2.plot(days, mean_rr, color='#ff0000', lw=3.5)

fig.text(fx(20), fy(607), '(hPa)', fontsize=7.5, va='center')
fig.text(fx(707), fy(607), '(mm)', fontsize=7.5, va='center')

# legend
fig.add_artist(Line2D([fx(225), fx(255)], [fy(637), fy(637)], color='#0000ff', lw=3.5))
fig.text(fx(263), fy(637), 'Run de contrôle', fontsize=7.5, va='center')
fig.add_artist(Line2D([fx(225), fx(255)], [fy(647), fy(647)], color='black', lw=3.5))
fig.text(fx(263), fy(647), 'Run GFS', fontsize=7.5, va='center')
fig.add_artist(Line2D([fx(35), fx(65)], [fy(652), fy(652)], color='#ff0000', lw=3.5))
fig.text(fx(75), fy(652), 'Moyenne des scénarios', fontsize=7.5, va='center')
fig.text(fx(370), fy(652), '20 Perturbations', fontsize=7.5, va='center')
for k, col in enumerate(pert_colors):
    x0 = 470 + 11 * k
    fig.add_artist(Rectangle((fx(x0), fy(656)), 9.5 / W, 6 / H, color=col, lw=0))
    fig.text(fx(x0 + 4.8), fy(643), '%02d' % (k + 1), fontsize=5.5, ha='center',
             va='center', weight='bold')

# title box
fig.add_artist(Rectangle((fx(20), fy(699)), 420 / W, 32 / H, fill=False,
                         lw=1.5, edgecolor='black'))
fig.text(fx(29), fy(677), 'Diagramme des ensembles GEFS sur 384h : 52.1N 5.2E',
         fontsize=9.2, weight='bold', va='center')
fig.text(fx(29), fy(692), 'Pression au niveau de la mer (hPa) , précipitations (mm)',
         fontsize=7.5, va='center')
fig.text(fx(450), fy(672), 'Ensemble GEFS du 13/01/2012 - 18h', fontsize=7.5, va='center')
fig.text(fx(450), fy(692), 'Copyright 2012 Meteociel.fr', fontsize=8.5, weight='bold',
         va='center')

fig.savefig('out.png', dpi=100)
